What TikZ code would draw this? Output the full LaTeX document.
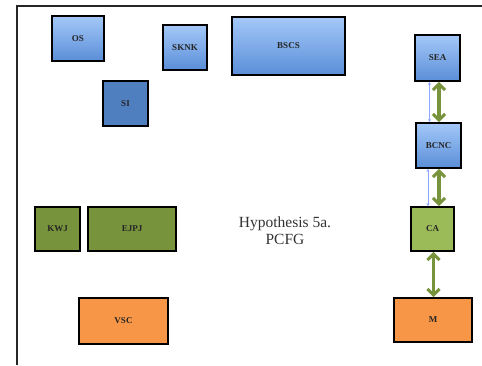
\documentclass[tikz,border=0pt]{standalone}
\usepackage{fontspec}
\setmainfont{Liberation Serif}
\usetikzlibrary{arrows.meta}
\definecolor{bluetop}{HTML}{A4C8F8}
\definecolor{bluebot}{HTML}{5A8ED8}
\definecolor{bluedark}{HTML}{4F7FBE}
\definecolor{greendark}{HTML}{77933C}
\definecolor{greenlight}{HTML}{9BBB59}
\definecolor{orangebox}{HTML}{F79646}
\definecolor{thinblue}{HTML}{8FA8FF}
\tikzset{
  box/.style={draw=black, line width=1.8pt, minimum width=#1, inner sep=0pt, font=\fontsize{9}{10}\selectfont\bfseries, text=black!85},
  gradbox/.style={box=#1, top color=bluetop, bottom color=bluebot},
  sibox/.style={box=#1, fill=bluedark},
  gbox/.style={box=#1, fill=greendark},
  lgbox/.style={box=#1, fill=greenlight},
  obox/.style={box=#1, fill=orangebox},
  garrow/.style={draw=greendark, line width=3.4pt, {Straight Barb[length=6pt,width=12pt,line width=3pt]}-{Straight Barb[length=6pt,width=12pt,line width=3pt]}},
  barrow/.style={draw=thinblue, line width=0.7pt, {Stealth[length=3pt,width=3pt]}-{Stealth[length=3pt,width=3pt]}},
}
\begin{document}
\begin{tikzpicture}[x=1pt,y=-1pt]
\useasboundingbox (0,0) rectangle (482,365);
\draw[line width=1.2pt, black!85] (17,365) -- (17,6) -- (482,6);
% blue boxes
\node[gradbox=52pt, minimum height=45pt] (OS) at (78,38.5) {OS};
\node[gradbox=44pt, minimum height=45pt] (SKNK) at (185,47.5) {SKNK};
\node[sibox=45pt, minimum height=45pt] (SI) at (125.5,103.5) {SI};
\node[gradbox=113pt, minimum height=58pt] (BSCS) at (288.5,46) {BSCS};
\node[gradbox=45pt, minimum height=46pt] (SEA) at (437.5,58) {SEA};
\node[gradbox=45pt, minimum height=45pt] (BCNC) at (438.5,145.5) {BCNC};
% green boxes
\node[gbox=45pt, minimum height=44pt] (KWJ) at (57.5,229) {KWJ};
\node[gbox=88pt, minimum height=44pt] (EJPJ) at (132,229) {EJPJ};
\node[lgbox=43pt, minimum height=44pt] (CA) at (432.5,229) {CA};
% orange boxes
\node[obox=89pt, minimum height=46pt] (VSC) at (123.5,321) {VSC};
\node[obox=78pt, minimum height=44pt] (M) at (433,320) {M};
% text
\node[align=center, font=\fontsize{15.5}{17}\selectfont, text=black!80] (hyp) at (285,230.5) {Hypothesis 5a.\\PCFG};
% connectors
\coordinate (gA) at (439,0);
\coordinate (bA) at (429.5,0);
\coordinate (gB) at (439,0);
\coordinate (bB) at (428,0);
\coordinate (gC) at (433.5,0);
\draw[barrow] (SEA.south -| bA) -- (BCNC.north -| bA);
\draw[garrow] (SEA.south -| gA) -- (BCNC.north -| gA);
\draw[barrow] (BCNC.south -| bB) -- (CA.north -| bB);
\draw[garrow] (BCNC.south -| gB) -- (CA.north -| gB);
\draw[garrow] (CA.south -| gC) -- (M.north -| gC);
\end{tikzpicture}
\end{document}
